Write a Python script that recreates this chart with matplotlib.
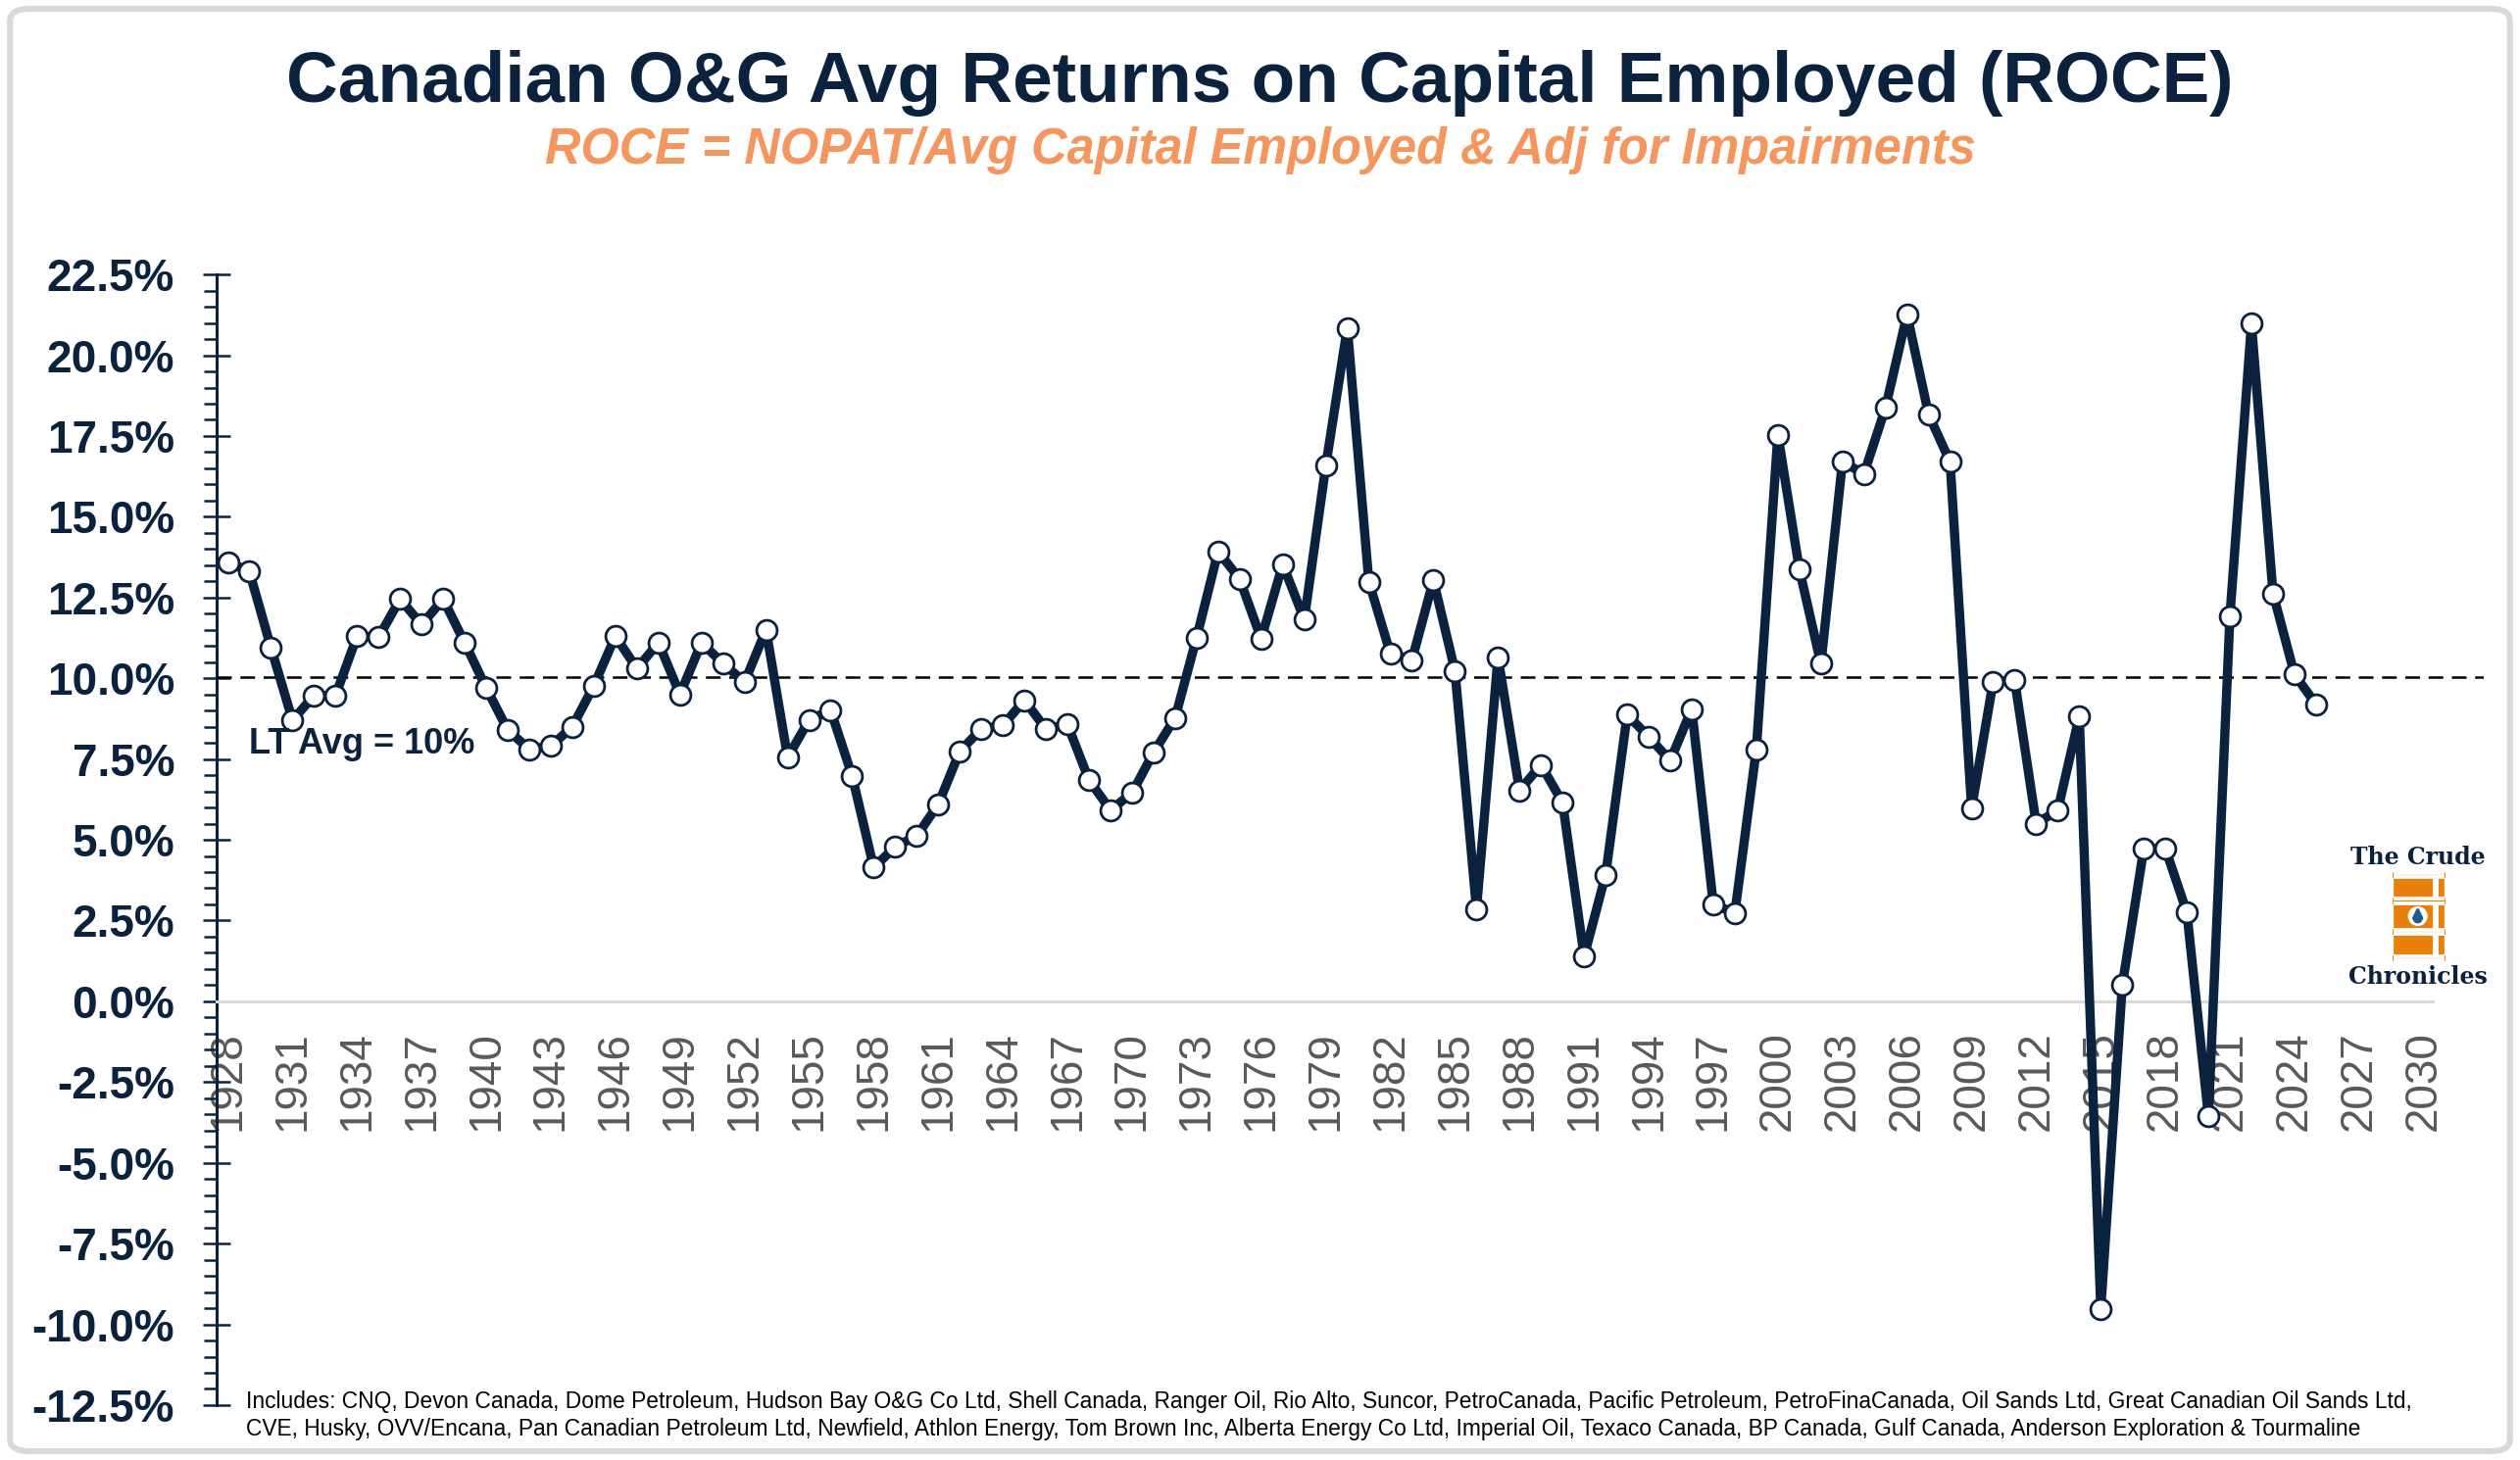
import matplotlib
matplotlib.use("Agg")
import matplotlib.pyplot as plt
from matplotlib.patches import Rectangle, FancyBboxPatch, Circle
from matplotlib.ticker import MultipleLocator, FuncFormatter

plt.rcParams['font.family'] = ['Liberation Sans', 'DejaVu Sans']

NAVY = '#0B223F'
ORANGE = '#F4965E'
GREY_TXT = '#595959'

years = list(range(1928, 2026))
roce = [13.6, 13.3, 10.95, 8.7, 9.47, 9.47, 11.3, 11.27, 12.45, 11.66,
        12.45, 11.1, 9.7, 8.4, 7.8, 7.9, 8.5, 9.77, 11.3, 10.3,
        11.1, 9.5, 11.1, 10.46, 9.88, 11.5, 7.55, 8.71, 9.01, 6.97,
        4.14, 4.79, 5.12, 6.10, 7.74, 8.43, 8.54, 9.32, 8.43, 8.57,
        6.85, 5.92, 6.45, 7.70, 8.77, 11.26, 13.93, 13.07, 11.22, 13.53,
        11.82, 16.58, 20.85, 12.99, 10.77, 10.56, 13.04, 10.23, 2.86, 10.65,
        6.53, 7.32, 6.15, 1.39, 3.92, 8.87, 8.19, 7.45, 9.05, 3.01,
        2.73, 7.80, 17.54, 13.37, 10.45, 16.70, 16.33, 18.37, 21.26, 18.17,
        16.70, 5.98, 9.89, 9.94, 5.50, 5.91, 8.82, -9.52, 0.50, 4.73,
        4.73, 2.75, -3.55, 11.93, 20.98, 12.63, 10.12, 9.19]
lt_avg = 10.05
xtick_years = list(range(1928, 2031, 3))

title = "Canadian O&G Avg Returns on Capital Employed (ROCE)"
subtitle = "ROCE = NOPAT/Avg Capital Employed & Adj for Impairments"
footnote = ("Includes: CNQ, Devon Canada, Dome Petroleum, Hudson Bay O&G Co Ltd, Shell Canada, "
            "Ranger Oil, Rio Alto, Suncor, PetroCanada, Pacific Petroleum, PetroFinaCanada, "
            "Oil Sands Ltd, Great Canadian Oil Sands Ltd,\n"
            "CVE, Husky, OVV/Encana, Pan Canadian Petroleum Ltd, Newfield, Athlon Energy, "
            "Tom Brown Inc, Alberta Energy Co Ltd, Imperial Oil, Texaco Canada, BP Canada, "
            "Gulf Canada, Anderson Exploration & Tourmaline")

fig = plt.figure(figsize=(12.855, 7.45), dpi=200)

# rounded grey frame around the whole picture
fig.patches.append(FancyBboxPatch((0.004, 0.006), 0.992, 0.988,
                                  boxstyle="round,pad=0,rounding_size=0.008",
                                  transform=fig.transFigure, fill=False,
                                  edgecolor='#D9D9D9', linewidth=2.2))

ax = fig.add_axes([0.086, 0.0376, 0.8997, 0.7744])
ax.set_xlim(1927.48, 2032.8)
ax.set_ylim(-12.5, 22.5)

ax.plot(years, roce, color=NAVY, linewidth=3.4, marker='o', markersize=7.5,
        markerfacecolor='white', markeredgecolor=NAVY, markeredgewidth=1.0,
        zorder=4, clip_on=False)
ax.plot([1927.48, 2032.8], [lt_avg, lt_avg], color='black', linewidth=0.9,
        dashes=(6, 3.5), zorder=3)
ax.text(1929.0, 7.68, "LT Avg = 10%", fontsize=13, fontweight='bold',
        color=NAVY, va='baseline', ha='left', zorder=5)

# spines
for s in ['top', 'right']:
    ax.spines[s].set_visible(False)
ax.spines['left'].set_color(NAVY)
ax.spines['left'].set_linewidth(1.1)
ax.spines['bottom'].set_position(('data', 0))
ax.spines['bottom'].set_color('#D9D9D9')
ax.spines['bottom'].set_linewidth(1.1)
ax.spines['bottom'].set_bounds(1927.48, 2030.4)

ax.yaxis.set_major_locator(MultipleLocator(2.5))
ax.yaxis.set_minor_locator(MultipleLocator(0.5))
ax.yaxis.set_major_formatter(FuncFormatter(lambda v, p: f"{v:.1f}%".replace("-0.0", "0.0")))
ax.tick_params(axis='y', which='major', direction='inout', length=9.9, width=0.9,
               color=NAVY, pad=10.5, labelsize=16.5, labelcolor=NAVY)
ax.tick_params(axis='y', which='minor', direction='out', length=4.7, width=0.9, color=NAVY)
for lab in ax.get_yticklabels():
    lab.set_fontweight('bold')

ax.set_xticks(xtick_years)
ax.set_xticklabels([str(y) for y in xtick_years], rotation=90, va='top')
ax.tick_params(axis='x', length=0, pad=11, labelsize=16.5, labelcolor=GREY_TXT)

# titles
fig.text(0.5, 0.930, title, ha='center', va='baseline', fontsize=26.3,
         fontweight='bold', color=NAVY)
fig.text(0.5, 0.888, subtitle, ha='center', va='baseline', fontsize=18.2,
         fontweight='bold', fontstyle='italic', color=ORANGE)
# baseline of the last line
fig.text(0.0977, 0.0168, footnote, ha='left', va='baseline', fontsize=8.2,
         color='black', linespacing=1.25)

# logo: The Crude Chronicles
lg = fig.add_axes([2350 / 2571, 1 - 1040 / 1490, 221 / 2571, 220 / 1490])
lg.set_xlim(0, 663)
lg.set_ylim(660, 0)
lg.axis('off')
barrel = '#E8800C'
lg.add_patch(Rectangle((280, 222), 145, 248, color=barrel))
for yy in [212, 292, 387, 468]:
    lg.add_patch(Rectangle((275, yy), 155, 10, color=barrel))
    lg.add_patch(Rectangle((280, yy - 3), 145, 3, color='white'))
    lg.add_patch(Rectangle((280, yy + 10), 145, 3, color='white'))
for y0, y1 in [(235, 285), (305, 380), (400, 460)]:
    lg.add_patch(Rectangle((400, y0), 8, y1 - y0, color='white'))
lg.add_patch(Circle((350, 345), 26, color='white'))
lg.add_patch(Circle((350, 352), 11, color='#1F5C8A'))
lg.plot([339, 350, 361], [350, 326, 350], color='#1F5C8A', linewidth=1.2)
lg.text(350, 165, "The Crude", ha='center', va='center', fontsize=8.5,
        fontweight='bold', color=NAVY, family='DejaVu Serif')
lg.text(350, 530, "Chronicles", ha='center', va='center', fontsize=8.5,
        fontweight='bold', color=NAVY, family='DejaVu Serif')

fig.savefig("out.png", dpi=200)
